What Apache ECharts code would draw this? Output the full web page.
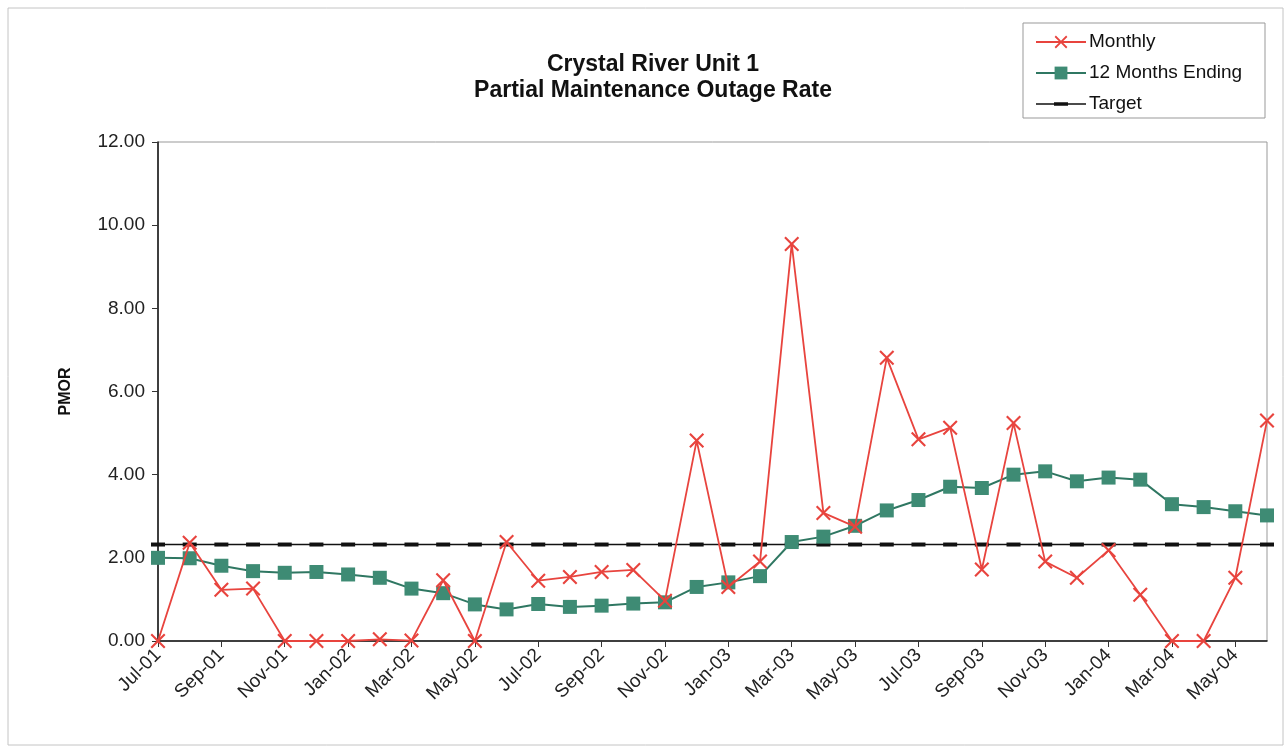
<!DOCTYPE html>
<html>
<head>
<meta charset="utf-8">
<script src="https://cdn.jsdelivr.net/npm/echarts@6/dist/echarts.min.js"></script>
<style>html,body{margin:0;padding:0;background:#fff;}#c{width:1288px;height:753px;}</style>
</head>
<body>
<div id="c"></div>
<script>
var months = ["Jul-01","Aug-01","Sep-01","Oct-01","Nov-01","Dec-01","Jan-02","Feb-02","Mar-02","Apr-02","May-02","Jun-02",
  "Jul-02","Aug-02","Sep-02","Oct-02","Nov-02","Dec-02","Jan-03","Feb-03","Mar-03","Apr-03","May-03","Jun-03",
  "Jul-03","Aug-03","Sep-03","Oct-03","Nov-03","Dec-03","Jan-04","Feb-04","Mar-04","Apr-04","May-04","Jun-04"];
var monthly = [0, 2.36, 1.23, 1.26, 0, 0, 0, 0.04, 0.01, 1.46, 0, 2.38,
  1.45, 1.54, 1.66, 1.71, 0.97, 4.82, 1.30, 1.91, 9.55, 3.08, 2.75, 6.81,
  4.85, 5.13, 1.72, 5.24, 1.91, 1.52, 2.18, 1.11, 0, 0, 1.52, 5.30];
var rolling12 = [2.00, 1.99, 1.81, 1.68, 1.64, 1.66, 1.60, 1.52, 1.26, 1.15, 0.88, 0.76,
  0.89, 0.82, 0.85, 0.90, 0.93, 1.30, 1.41, 1.56, 2.38, 2.51, 2.77, 3.14,
  3.39, 3.71, 3.68, 4.00, 4.08, 3.84, 3.93, 3.88, 3.29, 3.22, 3.12, 3.02];
var target = [2.32, 2.32, 2.32, 2.32, 2.32, 2.32, 2.32, 2.32, 2.32, 2.32, 2.32, 2.32,
  2.32, 2.32, 2.32, 2.32, 2.32, 2.32, 2.32, 2.32, 2.32, 2.32, 2.32, 2.32,
  2.32, 2.32, 2.32, 2.32, 2.32, 2.32, 2.32, 2.32, 2.32, 2.32, 2.32, 2.32];
var yTicks = {min: 0, max: 12, interval: 2};

var FONT = "'Liberation Sans', Arial, sans-serif";
var RED = '#e8443e';
var GREEN = '#3e8b74';
var GREEN_LINE = '#2f7762';
var XSYM = 'path://M0,1 L1,0 L5,4 L9,0 L10,1 L6,5 L10,9 L9,10 L5,6 L1,10 L0,9 L4,5 Z';
var TARGET_ICON = 'path://M0,0 L0,0 M0,6.3 L50,6.3 L50,7.7 L0,7.7 Z M18,5.2 L32,5.2 L32,8.8 L18,8.8 Z M50,14 L50,14';

var chart = echarts.init(document.getElementById('c'));
chart.setOption({
  animation: false,
  backgroundColor: '#fff',
  title: {
    text: 'Crystal River Unit 1\nPartial Maintenance Outage Rate',
    left: 648, top: 47, textAlign: 'center',
    textStyle: {fontFamily: FONT, fontSize: 23, fontWeight: 'bold', color: '#111', lineHeight: 26}
  },
  graphic: [
    {type: 'rect', shape: {x: 8, y: 8, width: 1275, height: 737}, style: {fill: 'none', stroke: '#c4c4c4', lineWidth: 1}, silent: true},
    {type: 'rect', shape: {x: 1023, y: 23, width: 242, height: 95}, style: {fill: 'none', stroke: '#999', lineWidth: 1}, silent: true}
  ],
  legend: {
    orient: 'vertical', left: 1030, top: 27,
    itemWidth: 50, itemHeight: 16, itemGap: 11,
    textStyle: {fontFamily: FONT, fontSize: 19, color: '#111', lineHeight: 20, padding: [0, 0, 0, -2]},
    data: ['Monthly', '12 Months Ending', {name: 'Target', icon: TARGET_ICON, itemStyle: {color: '#111'}}]
  },
  grid: {left: 158, right: 21, top: 142, bottom: 112, show: true, borderColor: '#999', borderWidth: 1, backgroundColor: 'transparent'},
  xAxis: {
    type: 'category', data: months, boundaryGap: false,
    axisLine: {lineStyle: {color: '#111', width: 1.5}},
    axisTick: {interval: 1, length: 6, inside: false, lineStyle: {color: '#333'}},
    axisLabel: {interval: 1, rotate: 45, fontFamily: FONT, fontSize: 19, color: '#222', margin: 11}
  },
  yAxis: {
    type: 'value', min: yTicks.min, max: yTicks.max, interval: yTicks.interval,
    name: 'PMOR', nameLocation: 'middle', nameRotate: 90, nameGap: 84,
    nameTextStyle: {fontFamily: FONT, fontSize: 16, fontWeight: 'bold', color: '#111'},
    axisLine: {show: true, lineStyle: {color: '#111', width: 1.5}},
    axisTick: {show: true, length: 6, lineStyle: {color: '#333'}},
    splitLine: {show: false},
    axisLabel: {fontFamily: FONT, fontSize: 19, color: '#222', margin: 13, formatter: function (v) { return v.toFixed(2); }}
  },
  series: [
    {
      name: 'Monthly', type: 'line', data: monthly, z: 4,
      symbol: XSYM, symbolSize: 15, showAllSymbol: true,
      lineStyle: {color: RED, width: 1.8},
      itemStyle: {color: RED}
    },
    {
      name: '12 Months Ending', type: 'line', data: rolling12, z: 3,
      symbol: 'rect', symbolSize: 14, showAllSymbol: true,
      lineStyle: {color: GREEN_LINE, width: 2},
      itemStyle: {color: GREEN}
    },
    {
      name: 'Target', type: 'line', data: target, z: 2,
      symbol: 'rect', symbolSize: [14, 4], showAllSymbol: true,
      lineStyle: {color: '#111', width: 1.5},
      itemStyle: {color: '#111'}
    }
  ]
});
</script>
</body>
</html>
